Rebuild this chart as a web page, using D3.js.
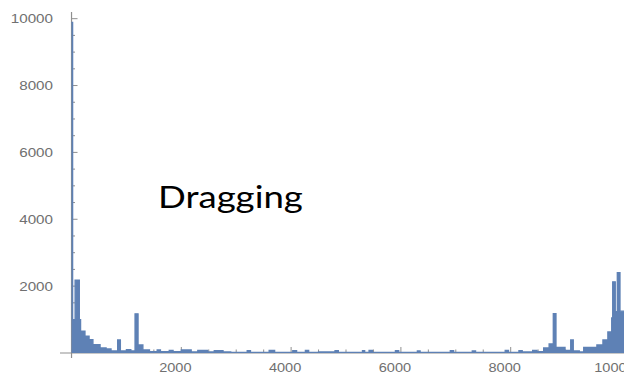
<!DOCTYPE html>
<html>
<head>
<meta charset="utf-8">
<script src="https://cdn.jsdelivr.net/npm/d3@7"></script>
<style>
  html, body { margin: 0; padding: 0; background: #fff; }
  svg { display: block; }
</style>
</head>
<body>
<svg id="chart" width="624" height="377"></svg>
<script>
// Step envelope of the count series: each bin starts at binStart and holds the peak value binPeak
const binStart = [0, 20, 65, 142, 165, 245, 320, 390, 520, 630, 720, 840, 890, 1000, 1080, 1157, 1212, 1300,
  1420, 1560, 1620, 1780, 1850, 2000, 2180, 2300, 2480, 2600, 2760, 2900, 3200, 3260, 3600, 3700, 4030, 4100,
  4260, 4320, 4500, 4800, 4860, 5300, 5340, 5420, 5480, 5900, 5960, 6300, 6350, 6900, 6960, 7300, 7360, 7900,
  7960, 8150, 8210, 8400, 8480, 8600, 8700, 8776, 8825, 8990, 9093, 9140, 9250, 9330, 9570, 9680, 9770, 9840,
  9858, 9905, 9942, 9991, 10064];
const binPeak = [9890, 1000, 2180, 1000, 650, 500, 400, 250, 150, 120, 60, 390, 60, 100, 60, 1170, 240, 90,
  40, 90, 40, 80, 40, 90, 30, 80, 30, 70, 30, 20, 70, 20, 80, 20, 70, 20,
  80, 20, 30, 70, 20, 70, 20, 80, 20, 70, 20, 60, 20, 70, 20, 60, 20, 80,
  20, 70, 30, 80, 40, 150, 270, 1180, 170, 80, 390, 60, 30, 170, 240, 390, 630, 1050,
  2130, 1240, 2400, 1250, 1250];

const xTicks = [2000, 4000, 6000, 8000, 10000];
const yTicks = [2000, 4000, 6000, 8000, 10000];

const svg = d3.select("#chart");
const x = d3.scaleLinear().domain([-210, 10064]).range([60, 624]);
const y = d3.scaleLinear().domain([-150, 10200]).range([358, 12]);

const series = binStart.map((s, i) => ({ x: s, v: binPeak[i] }));

const area = d3.area()
  .x(d => x(d.x))
  .y0(y(0))
  .y1(d => y(d.v))
  .curve(d3.curveStepAfter);

const line = d3.line()
  .x(d => x(d.x))
  .y(d => y(d.v))
  .curve(d3.curveStepAfter);

const blue = "rgb(94,129,181)";
const axisGray = "#8f8f8f";
const labelGray = "#707070";
const labelFont = "Liberation Sans, Arial, sans-serif";

// axis lines
svg.append("line").attr("x1", 60).attr("x2", 624).attr("y1", y(0)).attr("y2", y(0))
  .attr("stroke", axisGray).attr("stroke-width", 1.2);
svg.append("line").attr("x1", x(0)).attr("x2", x(0)).attr("y1", 12).attr("y2", 358)
  .attr("stroke", axisGray).attr("stroke-width", 1.2);

// minor + major ticks pointing inward
const minor = d3.range(500, 10001, 500);
svg.append("g").selectAll("line").data(minor).join("line")
  .attr("x1", x(0)).attr("x2", d => x(0) + (d % 2000 === 0 ? 6 : 3.5))
  .attr("y1", d => y(d)).attr("y2", d => y(d))
  .attr("stroke", axisGray).attr("stroke-width", 1);
svg.append("g").selectAll("line").data(minor).join("line")
  .attr("y1", y(0)).attr("y2", d => y(0) - (d % 2000 === 0 ? 6 : 3.5))
  .attr("x1", d => x(d)).attr("x2", d => x(d))
  .attr("stroke", axisGray).attr("stroke-width", 1);

// data
svg.append("path").datum(series).attr("d", area).attr("fill", blue);
svg.append("path").datum(series).attr("d", line)
  .attr("fill", "none").attr("stroke", blue).attr("stroke-width", 1.3);

// tick labels (slightly widened glyphs)
svg.append("g").selectAll("text").data(yTicks).join("text")
  .attr("transform", d => `translate(53,${y(d)}) scale(1.17,1)`)
  .attr("dy", "0.35em")
  .attr("text-anchor", "end")
  .attr("font-family", labelFont)
  .attr("font-size", 13).attr("fill", labelGray)
  .text(d => d);
svg.append("g").selectAll("text").data(xTicks).join("text")
  .attr("transform", d => `translate(${x(d) - 6},372) scale(1.12,1)`)
  .attr("text-anchor", "middle")
  .attr("font-family", labelFont)
  .attr("font-size", 13).attr("fill", labelGray)
  .text(d => d);

// annotation
svg.append("text")
  .attr("transform", "translate(158,208) scale(1.22,1)")
  .attr("font-family", "Lato, 'Open Sans', sans-serif")
  .attr("font-size", 30).attr("fill", "#000")
  .text("Dragging");
</script>
</body>
</html>
